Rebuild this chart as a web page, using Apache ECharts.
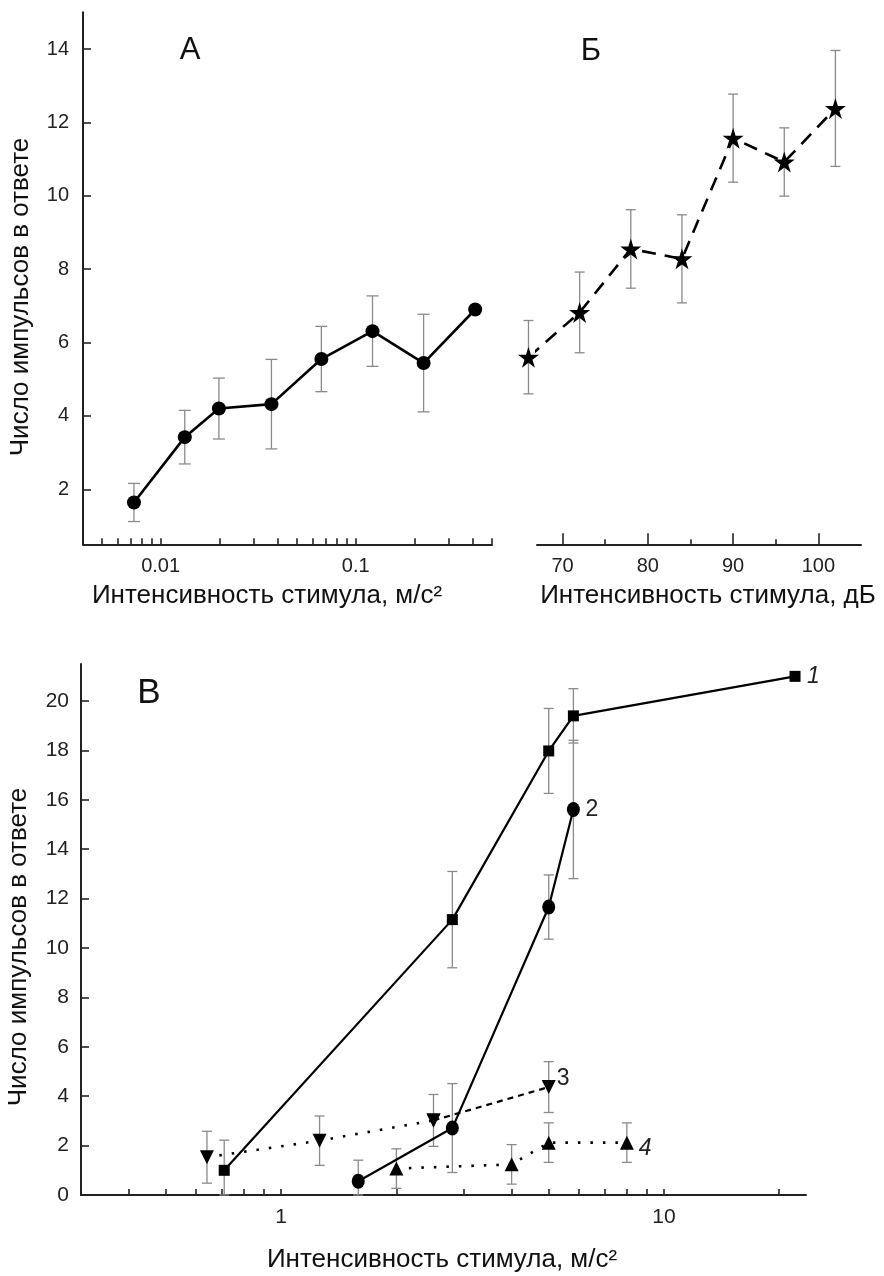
<!DOCTYPE html>
<html><head><meta charset="utf-8">
<script src="https://cdn.jsdelivr.net/npm/echarts@6/dist/echarts.min.js"></script>
<style>html,body{margin:0;padding:0;background:#fff}#c{width:884px;height:1276px}</style>
</head><body><div id="c"></div>
<script>
// ---- Panel А (log x, m/s^2) ----
const aX = [0.0073, 0.0133, 0.0199, 0.037, 0.0667, 0.122, 0.223, 0.41];
const aY = [1.64, 3.42, 4.2, 4.32, 5.55, 6.31, 5.44, 6.9];
const aErr = [0.52, 0.73, 0.83, 1.22, 0.89, 0.96, 1.33, null];
// ---- Panel Б (dB) ----
const bX = [66, 72, 78, 84, 90, 96, 102];
const bY = [5.6, 6.82, 8.55, 8.28, 11.57, 10.92, 12.38];
const bErr = [1.0, 1.1, 1.07, 1.2, 1.2, 0.93, 1.58];
// ---- Panel В (log x, m/s^2) ----
const v1X = [0.71, 2.8, 5.0, 5.8, 22];
const v1Y = [1.0, 11.15, 17.98, 19.4, 21.0];
const v1Err = [1.22, 1.95, 1.72, 1.1, null];
const v2X = [1.59, 2.8, 5.0, 5.8];
const v2Y = [0.56, 2.71, 11.66, 15.61];
const v2Err = [0.85, 1.8, 1.3, 2.8];
const v3X = [0.64, 1.26, 2.5, 5.0];
const v3Y = [1.53, 2.2, 3.02, 4.37];
const v3Err = [1.05, 1.0, 1.05, 1.03];
const v4X = [2.0, 4.0, 5.0, 8.0];
const v4Y = [1.07, 1.24, 2.12, 2.12];
const v4Err = [0.8, 0.8, 0.8, 0.8];
// ---- ticks ----
const aYTicks = [2, 4, 6, 8, 10, 12, 14];
const aXTicks = [0.005, 0.006, 0.007, 0.008, 0.009, 0.01, 0.02, 0.03, 0.04, 0.05, 0.06, 0.07, 0.08, 0.09, 0.1, 0.2, 0.3, 0.4, 0.5];
const aXLabels = [0.01, 0.1];
const bXMajor = [70, 80, 90, 100];
const bXMinor = [75, 85, 95];
const vYTicks = [0, 2, 4, 6, 8, 10, 12, 14, 16, 18, 20];
const vXTicks = [0.4, 0.5, 0.6, 0.7, 0.8, 0.9, 1, 2, 3, 4, 5, 6, 7, 8, 9, 10, 20];
const vXLabels = [1, 10];
const seriesNames = ['1', '2', '3', '4'];

const FONT = "'Liberation Sans', Arial, sans-serif";
const pts = (xs, ys) => xs.map((x, i) => [x, ys[i]]);
const errData = (xs, ys, es) => xs.map((x, i) => es[i] == null ? null : [x, ys[i] - es[i], ys[i] + es[i]]).filter(d => d);

function errSeries(data, xi, yi, cap) {
  return {
    type: 'custom', xAxisIndex: xi, yAxisIndex: yi, data: data, z: 1, clip: false,
    renderItem: function (params, api) {
      const x = api.value(0), lo = api.value(1), hi = api.value(2);
      const cs = params.coordSys;
      const pHi = api.coord([x, hi]);
      const pLo = api.coord([x, Math.max(lo, 0.0001)]);
      const bottom = cs.y + cs.height;
      let yLo = pLo[1], loCap = true;
      if (yLo > bottom) { yLo = bottom; loCap = false; }
      const st = { stroke: '#8a8a8a', lineWidth: 1.3 };
      const ch = [
        { type: 'line', shape: { x1: pHi[0], y1: pHi[1], x2: pHi[0], y2: yLo }, style: st },
        { type: 'line', shape: { x1: pHi[0] - cap, y1: pHi[1], x2: pHi[0] + cap, y2: pHi[1] }, style: st }
      ];
      if (loCap) ch.push({ type: 'line', shape: { x1: pHi[0] - cap, y1: yLo, x2: pHi[0] + cap, y2: yLo }, style: st });
      return { type: 'group', children: ch };
    }
  };
}

const STAR = 'path://M50,0 L61.2,34.5 L97.6,34.5 L68.2,55.9 L79.4,90.5 L50,69.1 L20.6,90.5 L31.8,55.9 L2.4,34.5 L38.8,34.5 Z';
const axisLineSt = { show: true, lineStyle: { color: '#222', width: 2 } };
const tickSt = (vals, len) => ({ show: true, inside: true, length: len, customValues: vals, lineStyle: { color: '#222', width: 1.6 } });

const option = {
  animation: false,
  backgroundColor: '#fff',
  grid: [
    { left: 83, top: 12.3, width: 409, height: 532 },
    { left: 537, top: 12.3, width: 324, height: 532 },
    { left: 81, top: 664, width: 725, height: 531 }
  ],
  xAxis: [
    { type: 'log', gridIndex: 0, min: 0.004, max: 0.5, logBase: 10,
      axisLine: axisLineSt, axisTick: tickSt(aXTicks, 6), splitLine: { show: false },
      axisLabel: { customValues: aXLabels, margin: 12, fontSize: 20, color: '#222', fontFamily: FONT, formatter: v => String(+v.toPrecision(3)) } },
    { type: 'value', gridIndex: 1, min: 67, max: 105,
      axisLine: axisLineSt, axisTick: tickSt(bXMajor, 11), splitLine: { show: false },
      axisLabel: { customValues: bXMajor, margin: 12, fontSize: 20, color: '#222', fontFamily: FONT } },
    { type: 'value', gridIndex: 1, min: 67, max: 105, position: 'bottom',
      axisLine: { show: false }, axisTick: tickSt(bXMinor, 5), splitLine: { show: false }, axisLabel: { show: false } },
    { type: 'log', gridIndex: 2, min: 0.3, max: 23.5, logBase: 10,
      axisLine: axisLineSt, axisTick: tickSt(vXTicks, 6), splitLine: { show: false },
      axisLabel: { customValues: vXLabels, margin: 12, fontSize: 21, color: '#222', fontFamily: FONT } }
  ],
  yAxis: [
    { type: 'value', gridIndex: 0, min: 0.5, max: 15,
      axisLine: axisLineSt, axisTick: tickSt(aYTicks, 8), splitLine: { show: false },
      axisLabel: { customValues: aYTicks, margin: 14, fontSize: 20, color: '#222', fontFamily: FONT } },
    { type: 'value', gridIndex: 1, min: 0.5, max: 15, show: false },
    { type: 'value', gridIndex: 2, min: 0, max: 21.5,
      axisLine: axisLineSt, axisTick: tickSt(vYTicks, 8), splitLine: { show: false },
      axisLabel: { customValues: vYTicks, margin: 12, fontSize: 21, color: '#222', fontFamily: FONT } }
  ],
  series: [
    errSeries(errData(aX, aY, aErr), 0, 0, 6),
    { type: 'line', xAxisIndex: 0, yAxisIndex: 0, data: pts(aX, aY), symbol: 'circle', symbolSize: 14,
      itemStyle: { color: '#000' }, lineStyle: { color: '#000', width: 2.6 }, z: 3 },
    errSeries(errData(bX, bY, bErr), 1, 1, 5),
    { type: 'line', xAxisIndex: 1, yAxisIndex: 1, data: pts(bX, bY), symbol: STAR, symbolSize: 21, clip: false,
      itemStyle: { color: '#000' }, lineStyle: { color: '#000', width: 2.6, type: [14, 9] }, z: 3 },
    errSeries(errData(v1X, v1Y, v1Err), 3, 2, 5),
    errSeries(errData(v2X, v2Y, v2Err), 3, 2, 5),
    errSeries(errData(v3X, v3Y, v3Err), 3, 2, 5),
    errSeries(errData(v4X, v4Y, v4Err), 3, 2, 5),
    { type: 'line', xAxisIndex: 3, yAxisIndex: 2, data: pts(v1X, v1Y), symbol: 'rect', symbolSize: 11,
      itemStyle: { color: '#000' }, lineStyle: { color: '#000', width: 2.2 }, z: 3,
      endLabel: { show: true, formatter: seriesNames[0], fontSize: 23, fontStyle: 'italic', color: '#222', fontFamily: FONT, distance: 12 } },
    { type: 'line', xAxisIndex: 3, yAxisIndex: 2, data: pts(v2X, v2Y), symbol: 'circle', symbolSize: [13, 15],
      itemStyle: { color: '#000' }, lineStyle: { color: '#000', width: 2.2 }, z: 3,
      endLabel: { show: true, formatter: seriesNames[1], fontSize: 23, color: '#222', fontFamily: FONT, distance: 12 } },
    { type: 'line', xAxisIndex: 3, yAxisIndex: 2, data: pts(v3X.slice(0, 3), v3Y.slice(0, 3)), symbol: 'triangle', symbolRotate: 180, symbolSize: 14,
      itemStyle: { color: '#000' }, lineStyle: { color: '#000', width: 2.6, type: [2.5, 10] }, z: 3 },
    { type: 'line', xAxisIndex: 3, yAxisIndex: 2, data: pts(v3X.slice(2), v3Y.slice(2)), symbol: 'triangle', symbolRotate: 180, symbolSize: 14,
      itemStyle: { color: '#000' }, lineStyle: { color: '#000', width: 2.2, type: [6, 5] }, z: 3,
      endLabel: { show: true, formatter: seriesNames[2], fontSize: 23, color: '#222', fontFamily: FONT, distance: 8, offset: [0, -8] } },
    { type: 'line', xAxisIndex: 3, yAxisIndex: 2, data: pts(v4X, v4Y), symbol: 'triangle', symbolSize: 14,
      itemStyle: { color: '#000' }, lineStyle: { color: '#000', width: 2.6, type: [2.5, 10] }, z: 3,
      endLabel: { show: true, formatter: seriesNames[3], fontSize: 23, fontStyle: 'italic', color: '#222', fontFamily: FONT, distance: 12, offset: [0, 6] } }
  ],
  graphic: [
    { type: 'text', x: 190, y: 50, style: { text: 'А', font: '31px ' + FONT, fill: '#111', align: 'center', verticalAlign: 'middle' } },
    { type: 'text', x: 591, y: 51, style: { text: 'Б', font: '31px ' + FONT, fill: '#111', align: 'center', verticalAlign: 'middle' } },
    { type: 'text', x: 149, y: 693, style: { text: 'В', font: '35px ' + FONT, fill: '#111', align: 'center', verticalAlign: 'middle' } },
    { type: 'text', x: 267, y: 596, style: { text: 'Интенсивность стимула, м/с²', font: '26px ' + FONT, fill: '#111', align: 'center', verticalAlign: 'middle' } },
    { type: 'text', x: 708, y: 596, style: { text: 'Интенсивность стимула, дБ', font: '26px ' + FONT, fill: '#111', align: 'center', verticalAlign: 'middle' } },
    { type: 'text', x: 442, y: 1260, style: { text: 'Интенсивность стимула, м/с²', font: '26px ' + FONT, fill: '#111', align: 'center', verticalAlign: 'middle' } },
    { type: 'text', x: 21, y: 297, rotation: Math.PI / 2, style: { text: 'Число импульсов в ответе', font: '26px ' + FONT, fill: '#111', align: 'center', verticalAlign: 'middle' } },
    { type: 'text', x: 19, y: 947, rotation: Math.PI / 2, style: { text: 'Число импульсов в ответе', font: '26px ' + FONT, fill: '#111', align: 'center', verticalAlign: 'middle' } }
  ]
};
const chart = echarts.init(document.getElementById('c'), null, { renderer: 'canvas' });
chart.setOption(option);
</script></body></html>
